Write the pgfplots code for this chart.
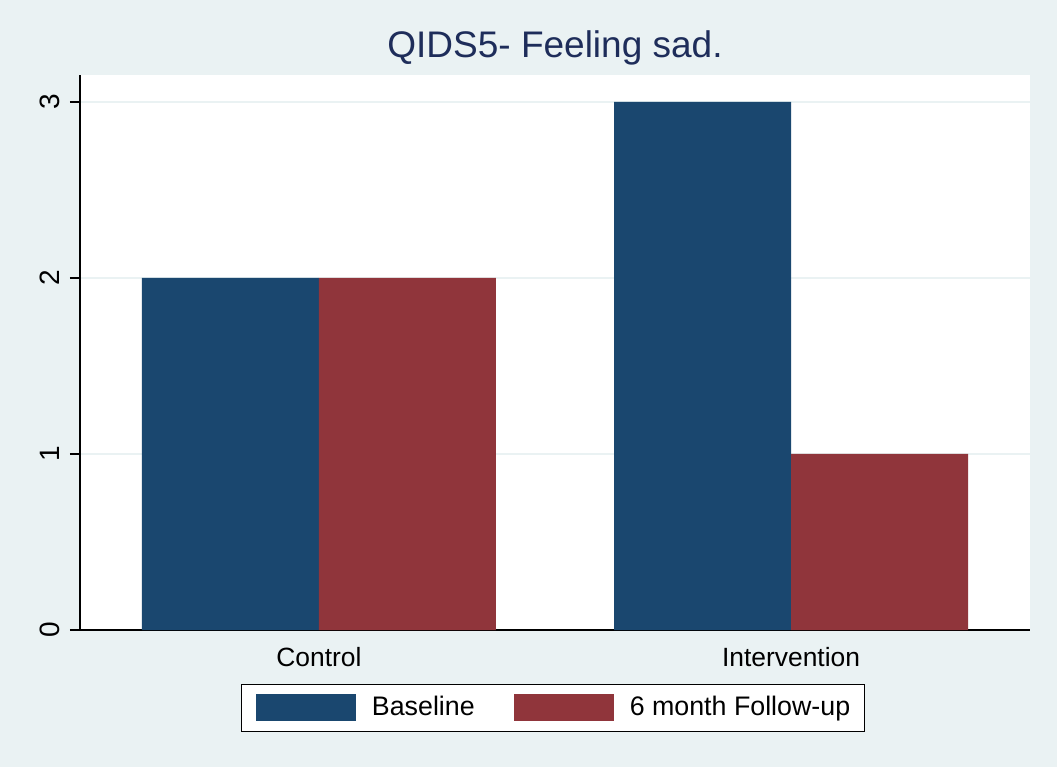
\documentclass[border=0pt]{standalone}
\usepackage{pgfplots}
\pgfplotsset{compat=1.18}
\usepackage{fontspec}
\setmainfont{Liberation Sans}
\definecolor{bgc}{RGB}{234,242,243}
\definecolor{navyb}{RGB}{26,71,111}
\definecolor{maroonb}{RGB}{144,53,59}
\definecolor{titc}{RGB}{30,45,90}
\begin{document}
\begin{tikzpicture}
\fill[bgc] (0,0) rectangle (528.5pt,383.5pt);
\node[anchor=base, text=titc, font=\fontsize{18.5}{22}\selectfont, inner sep=0pt] at (277.5pt,354.5pt) {QIDS5- Feeling sad.};
\begin{axis}[
  at={(40pt,68.5pt)}, anchor=south west,
  scale only axis, width=475pt, height=277.5pt,
  xmin=-0.506, xmax=1.506, ymin=0, ymax=3.1534,
  axis background/.style={fill=white},
  axis lines*=left,
  axis line style={black, line width=0.6pt},
  xtick={0,1}, xticklabels={Control, Intervention},
  ytick={0,1,2,3},
  xtick style={draw=none},
  ytick style={black, line width=0.6pt},
  tick align=outside, major tick length=5pt,
  ymajorgrids, grid style={bgc, line width=1.3pt},
  /pgf/number format/assume math mode=true,
  xticklabel style={font=\fontsize{13.2}{16}\selectfont, anchor=north, inner sep=0pt, yshift=-3.5pt},
  yticklabel style={font=\fontsize{14}{16}\selectfont, rotate=90, anchor=base, inner sep=0pt},
  yticklabel shift=5pt,
  legend style={at={(0.498,-0.1405)}, anchor=center, legend columns=2,
    draw=black, line width=0.5pt, fill=white,
    inner xsep=7pt, inner ysep=5pt,
    font=\fontsize{13.4}{16}\selectfont,
    nodes={inner sep=0pt},
    /tikz/every odd column/.append style={column sep=8pt},
    /tikz/every even column/.append style={column sep=19.5pt}},
  legend image code/.code={\fill[#1] (0pt,-7pt) rectangle (50pt,6.5pt);},
]
\addplot[ybar, bar width=88.5pt, bar shift=-44.25pt, fill=navyb, draw=none] coordinates {(0,2) (1,3)};
\addlegendentry{Baseline}
\addplot[ybar, bar width=88.5pt, bar shift=44.25pt, fill=maroonb, draw=none] coordinates {(0,2) (1,1)};
\addlegendentry{6 month Follow-up}
\end{axis}
\end{tikzpicture}
\end{document}
